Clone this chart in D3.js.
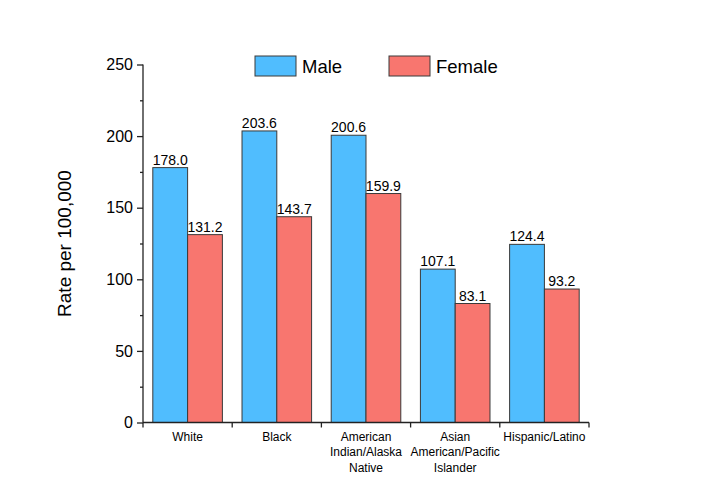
<!DOCTYPE html>
<html>
<head>
<meta charset="utf-8">
<script src="https://cdn.jsdelivr.net/npm/d3@7"></script>
<style>
  body { margin: 0; background: #fff; }
  text { font-family: Arial, "Liberation Sans", sans-serif; fill: #000; }
</style>
</head>
<body>
<div id="chart"></div>
<script>
// Data
const categories = ['White', 'Black', 'American Indian/Alaska Native', 'Asian American/Pacific Islander', 'Hispanic/Latino'];
const catLines = [['White'], ['Black'], ['American', 'Indian/Alaska', 'Native'], ['Asian', 'American/Pacific', 'Islander'], ['Hispanic/Latino']];
const series = ['Male', 'Female'];
const maleValues = [178.0, 203.6, 200.6, 107.1, 124.4];
const femaleValues = [131.2, 143.7, 159.9, 83.1, 93.2];
const yTicks = [0, 50, 100, 150, 200, 250];
const colors = { Male: '#50BDFE', Female: '#F8766F' };

const svgWidth = 702;
const svgHeight = 500;
const margin = { top: 64.5, right: 113, bottom: 77.5, left: 143 };
const chartWidth = svgWidth - margin.left - margin.right;
const chartHeight = svgHeight - margin.top - margin.bottom;

const svg = d3.select('#chart').append('svg')
  .attr('width', svgWidth)
  .attr('height', svgHeight);

const g = svg.append('g')
  .attr('transform', `translate(${margin.left}, ${margin.top})`);

const rows = categories.map((c, i) => ({ cat: c, Male: maleValues[i], Female: femaleValues[i] }));

const x0 = d3.scaleBand().domain(categories).range([0, chartWidth]).paddingInner(0).paddingOuter(0);
const x1 = d3.scaleBand().domain(series).range([x0.bandwidth() * 0.11, x0.bandwidth() * 0.89]);
const y = d3.scaleLinear().domain([0, 250]).range([chartHeight, 0]);

// bars
const groups = g.selectAll('.grp').data(rows).enter().append('g')
  .attr('transform', d => `translate(${x0(d.cat)},0)`);

groups.selectAll('rect')
  .data(d => series.map(s => ({ key: s, value: d[s] })))
  .enter().append('rect')
  .attr('x', d => x1(d.key))
  .attr('y', d => y(d.value))
  .attr('width', x1.bandwidth())
  .attr('height', d => chartHeight - y(d.value))
  .attr('fill', d => colors[d.key])
  .attr('stroke', '#3a3a3a')
  .attr('stroke-width', 1);

groups.selectAll('.val')
  .data(d => series.map(s => ({ key: s, value: d[s] })))
  .enter().append('text')
  .attr('x', d => x1(d.key) + x1.bandwidth() / 2)
  .attr('y', d => y(d.value) - 3)
  .attr('text-anchor', 'middle')
  .style('font-size', '14px')
  .text(d => d.value.toFixed(1));

// y axis with minor ticks
const yAxis = g.append('g')
  .call(d3.axisLeft(y).tickValues(yTicks).tickSize(6).tickPadding(4).tickFormat(d3.format('d')));
yAxis.selectAll('text').style('font-size', '16px');
yAxis.select('.domain').attr('d', `M0,${chartHeight}V0`).attr('stroke', '#222').attr('stroke-width', 1.3);
yAxis.selectAll('.tick line').attr('stroke', '#222').attr('stroke-width', 1.3);

g.append('g')
  .call(d3.axisLeft(y).tickValues(d3.range(25, 250, 50)).tickSize(3).tickFormat(''))
  .call(a => a.select('.domain').remove())
  .selectAll('line').attr('stroke', '#222').attr('stroke-width', 1.3);

// x axis: ticks at category boundaries
const xAxis = g.append('g').attr('transform', `translate(0, ${chartHeight})`);
xAxis.append('line')
  .attr('x1', 0).attr('x2', chartWidth)
  .attr('stroke', '#222').attr('stroke-width', 1.3);
xAxis.selectAll('.bt')
  .data(categories.map(c => x0(c)).concat([chartWidth]))
  .enter().append('line')
  .attr('x1', d => d).attr('x2', d => d)
  .attr('y1', 0).attr('y2', 5)
  .attr('stroke', '#222').attr('stroke-width', 1.3);

const labels = xAxis.selectAll('.xl')
  .data(categories)
  .enter().append('text')
  .attr('text-anchor', 'middle')
  .attr('transform', d => `translate(${x0(d) + x0.bandwidth() / 2}, 18)`)
  .style('font-size', '12px');
labels.selectAll('tspan')
  .data((d, i) => catLines[i])
  .enter().append('tspan')
  .attr('x', 0)
  .attr('dy', (d, i) => i === 0 ? 0 : 15.5)
  .text(d => d);

// y axis label
svg.append('text')
  .attr('transform', `translate(71, ${margin.top + chartHeight / 2}) rotate(-90)`)
  .attr('text-anchor', 'middle')
  .style('font-size', '19px')
  .text('Rate per 100,000');

// legend
const legend = svg.append('g');
const legendX = [255, 389];
series.forEach((s, i) => {
  legend.append('rect')
    .attr('x', legendX[i]).attr('y', 56)
    .attr('width', 41).attr('height', 20)
    .attr('fill', colors[s])
    .attr('stroke', '#3a3a3a');
  legend.append('text')
    .attr('x', legendX[i] + 47).attr('y', 73)
    .style('font-size', '18.5px')
    .text(s);
});
</script>
</body>
</html>
